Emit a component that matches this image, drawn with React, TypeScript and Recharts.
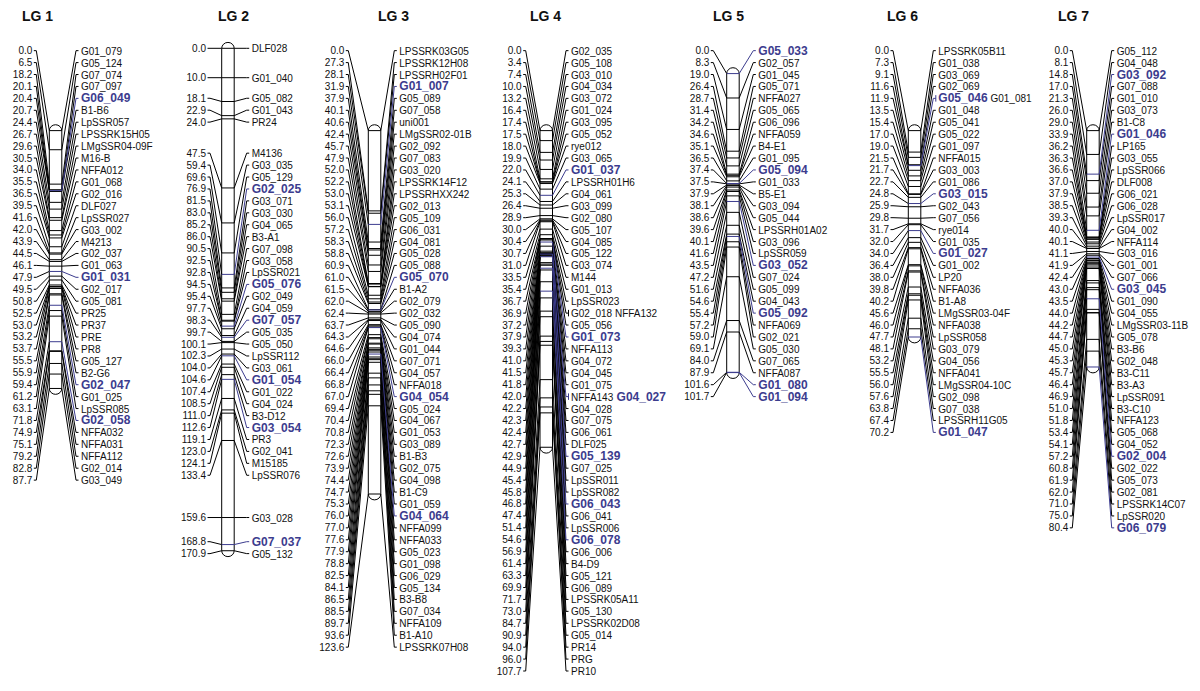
import React from 'react';
import { ComposedChart, XAxis, YAxis, Line, Scatter, ReferenceArea } from 'recharts';

// ---- data (cM positions, marker names, highlighted markers) ----
const LG1_CM = [0.0, 6.5, 18.2, 20.1, 20.4, 20.7, 24.4, 26.7, 29.6, 30.5, 34.0, 35.5, 36.5, 39.5, 41.6, 42.0, 43.9, 44.5, 46.1, 47.9, 49.5, 50.8, 52.5, 53.0, 53.2, 53.7, 55.5, 55.9, 59.4, 61.2, 63.1, 71.8, 74.9, 75.1, 79.2, 82.8, 87.7];
const LG1_MARKERS = ['G01_079', 'G05_124', 'G07_074', 'G07_097', 'G06_049', 'B1-B6', 'LpSSR057', 'LPSSRK15H05', 'LMgSSR04-09F', 'M16-B', 'NFFA012', 'G01_068', 'G02_016', 'DLF027', 'LpSSR027', 'G03_002', 'M4213', 'G02_037', 'G01_063', 'G01_031', 'G02_017', 'G05_081', 'PR25', 'PR37', 'PRE', 'PR8', 'G05_127', 'B2-G6', 'G02_047', 'G01_025', 'LpSSR085', 'G02_058', 'NFFA032', 'NFFA031', 'NFFA112', 'G02_014', 'G03_049'];
const LG1_HIGHLIGHT = ['G06_049', 'G01_031', 'G02_047', 'G02_058'];

const LG2_CM = [0.0, 10.0, 18.1, 22.9, 24.0, 47.5, 59.4, 69.6, 76.9, 81.5, 83.0, 85.2, 86.0, 90.5, 92.5, 92.8, 94.5, 95.4, 97.7, 98.3, 99.7, 100.1, 102.3, 104.0, 104.6, 107.4, 108.5, 111.0, 112.6, 119.1, 123.0, 124.1, 133.4, 159.6, 168.8, 170.9];
const LG2_MARKERS = ['DLF028', 'G01_040', 'G05_082', 'G01_043', 'PR24', 'M4136', 'G03_035', 'G05_129', 'G02_025', 'G03_071', 'G03_030', 'G04_065', 'B3-A1', 'G07_098', 'G03_058', 'LpSSR021', 'G05_076', 'G02_049', 'G04_059', 'G07_057', 'G05_035', 'G05_050', 'LpSSR112', 'G03_061', 'G01_054', 'G01_022', 'G04_024', 'B3-D12', 'G03_054', 'PR3', 'G02_041', 'M15185', 'LpSSR076', 'G03_028', 'G07_037', 'G05_132'];
const LG2_HIGHLIGHT = ['G02_025', 'G05_076', 'G07_057', 'G01_054', 'G03_054', 'G07_037'];

const LG3_CM = [0.0, 27.3, 28.1, 31.9, 37.9, 40.1, 40.6, 42.4, 45.7, 47.9, 52.0, 52.2, 53.0, 53.1, 56.0, 57.2, 58.3, 58.8, 60.9, 61.0, 61.5, 62.0, 62.4, 63.7, 64.3, 64.6, 66.0, 66.4, 66.8, 67.0, 69.4, 70.4, 70.8, 72.3, 72.6, 73.9, 74.4, 74.7, 75.3, 76.0, 77.0, 77.6, 77.9, 78.8, 82.5, 84.1, 86.5, 88.5, 89.7, 93.6, 123.6];
const LG3_MARKERS = ['LPSSRK03G05', 'LPSSRK12H08', 'LPSSRH02F01', 'G01_007', 'G05_089', 'G07_058', 'uni001', 'LMgSSR02-01B', 'G02_092', 'G07_083', 'G03_020', 'LPSSRK14F12', 'LPSSRHXX242', 'G02_013', 'G05_109', 'G06_031', 'G04_081', 'G05_028', 'G05_088', 'G05_070', 'B1-A2', 'G02_079', 'G02_032', 'G05_090', 'G04_074', 'G01_044', 'G07_071', 'G04_057', 'NFFA018', 'G04_054', 'G05_024', 'G04_067', 'G01_053', 'G03_089', 'B1-B3', 'G02_075', 'G04_098', 'B1-C9', 'G01_059', 'G04_064', 'NFFA099', 'NFFA033', 'G05_023', 'G01_098', 'G06_029', 'G05_134', 'B3-B8', 'G07_034', 'NFFA109', 'B1-A10', 'LPSSRK07H08'];
const LG3_HIGHLIGHT = ['G01_007', 'G05_070', 'G04_054', 'G04_064'];

const LG4_CM = [0.0, 3.4, 7.4, 10.0, 13.2, 16.4, 17.4, 17.5, 18.0, 19.9, 22.0, 24.1, 25.3, 26.4, 28.9, 30.0, 30.4, 30.7, 31.0, 33.5, 35.4, 36.7, 36.9, 37.2, 37.9, 39.3, 41.0, 41.5, 41.8, 42.0, 42.2, 42.3, 42.4, 42.7, 42.9, 44.9, 45.4, 45.8, 46.8, 47.4, 51.4, 54.6, 56.9, 61.4, 63.3, 69.9, 71.7, 73.0, 84.7, 90.9, 94.0, 96.0, 107.7];
const LG4_MARKERS = ['G02_035', 'G05_108', 'G03_010', 'G04_034', 'G03_072', 'G01_024', 'G03_095', 'G05_052', 'rye012', 'G03_065', 'G01_037', 'LPSSRH01H6', 'G04_061', 'G03_099', 'G02_080', 'G05_107', 'G04_085', 'G05_122', 'G03_074', 'M144', 'G01_013', 'LpSSR023', 'G02_018 NFFA132', 'G05_056', 'G01_073', 'NFFA113', 'G04_072', 'G04_045', 'G01_075', 'NFFA143 G04_027', 'G04_028', 'G07_075', 'G06_061', 'DLF025', 'G05_139', 'G07_025', 'LpSSR011', 'LpSSR082', 'G06_043', 'G06_041', 'LpSSR006', 'G06_078', 'G06_006', 'B4-D9', 'G05_121', 'G06_089', 'LPSSRK05A11', 'G05_130', 'LPSSRK02D08', 'G05_014', 'PR14', 'PRG', 'PR10'];
const LG4_HIGHLIGHT = ['G01_037', 'G01_073', 'G04_027', 'G05_139', 'G06_043', 'G06_078'];

const LG5_CM = [0.0, 8.3, 19.0, 26.4, 28.7, 31.4, 34.2, 34.6, 35.1, 36.5, 37.4, 37.5, 37.9, 38.1, 38.6, 39.6, 40.1, 41.6, 43.5, 47.2, 51.6, 54.6, 55.4, 57.2, 59.0, 69.1, 84.0, 87.9, 101.6, 101.7];
const LG5_MARKERS = ['G05_033', 'G02_057', 'G01_045', 'G05_071', 'NFFA027', 'G05_065', 'G06_096', 'NFFA059', 'B4-E1', 'G01_095', 'G05_094', 'G01_033', 'B5-E1', 'G03_094', 'G05_044', 'LPSSRH01A02', 'G03_096', 'LpSSR059', 'G03_052', 'G07_024', 'G05_099', 'G04_043', 'G05_092', 'NFFA069', 'G02_021', 'G05_030', 'G07_065', 'NFFA087', 'G01_080', 'G01_094'];
const LG5_HIGHLIGHT = ['G05_033', 'G05_094', 'G03_052', 'G05_092', 'G01_080', 'G01_094'];

const LG6_CM = [0.0, 7.3, 9.1, 11.6, 11.9, 13.5, 15.4, 17.0, 19.0, 21.5, 21.7, 22.7, 24.8, 25.9, 29.8, 31.7, 32.0, 34.0, 36.4, 38.0, 39.8, 40.2, 45.6, 46.0, 47.7, 48.1, 53.2, 55.5, 56.0, 57.6, 63.8, 67.4, 70.2];
const LG6_MARKERS = ['LPSSRK05B11', 'G01_038', 'G03_069', 'G02_069', 'G05_046 G01_081', 'G01_048', 'G05_041', 'G05_022', 'G01_097', 'NFFA015', 'G03_003', 'G01_086', 'G03_015', 'G02_043', 'G07_056', 'rye014', 'G01_035', 'G01_027', 'G01_002', 'LP20', 'NFFA036', 'B1-A8', 'LMgSSR03-04F', 'NFFA038', 'LpSSR058', 'G03_079', 'G04_056', 'NFFA041', 'LMgSSR04-10C', 'G02_098', 'G07_038', 'LPSSRH11G05', 'G01_047'];
const LG6_HIGHLIGHT = ['G05_046', 'G03_015', 'G01_027', 'G01_047'];

const LG7_CM = [0.0, 8.1, 14.8, 17.0, 21.3, 26.0, 29.0, 33.9, 36.2, 36.3, 36.6, 37.0, 37.9, 38.5, 39.3, 40.0, 40.1, 41.1, 41.9, 42.4, 43.0, 43.5, 44.0, 44.2, 44.7, 45.0, 45.3, 45.7, 46.4, 46.9, 51.0, 51.8, 53.4, 54.1, 57.2, 60.8, 61.9, 62.0, 71.0, 75.0, 80.4];
const LG7_MARKERS = ['G05_112', 'G04_048', 'G03_092', 'G07_088', 'G01_010', 'G03_073', 'B1-C8', 'G01_046', 'LP165', 'G03_055', 'LpSSR066', 'DLF008', 'G06_021', 'G06_028', 'LpSSR017', 'G04_002', 'NFFA114', 'G03_016', 'G01_001', 'G07_066', 'G03_045', 'G01_090', 'G04_055', 'LMgSSR03-11B', 'G05_078', 'B3-B6', 'G02_048', 'B3-C11', 'B3-A3', 'LpSSR091', 'B3-C10', 'NFFA123', 'G05_068', 'G04_052', 'G02_004', 'G02_022', 'G05_073', 'G02_081', 'LPSSRK14C07', 'LpSSR020', 'G06_079'];
const LG7_HIGHLIGHT = ['G03_092', 'G01_046', 'G03_045', 'G02_004', 'G06_079'];

const GROUPS = [
  { title: 'LG 1', cm: LG1_CM, names: LG1_MARKERS, hi: LG1_HIGHLIGHT },
  { title: 'LG 2', cm: LG2_CM, names: LG2_MARKERS, hi: LG2_HIGHLIGHT },
  { title: 'LG 3', cm: LG3_CM, names: LG3_MARKERS, hi: LG3_HIGHLIGHT },
  { title: 'LG 4', cm: LG4_CM, names: LG4_MARKERS, hi: LG4_HIGHLIGHT },
  { title: 'LG 5', cm: LG5_CM, names: LG5_MARKERS, hi: LG5_HIGHLIGHT },
  { title: 'LG 6', cm: LG6_CM, names: LG6_MARKERS, hi: LG6_HIGHLIGHT },
  { title: 'LG 7', cm: LG7_CM, names: LG7_MARKERS, hi: LG7_HIGHLIGHT },
];

// ---- layout (x in px, offsets in cM) ----
const LAYOUT = [
  { barX: 49.3, numRight: 32.3, nameX: 81, offset: 28, top: 0.8, titleX: 22 },
  { barX: 221.7, numRight: 206, nameX: 251.7, offset: 0, top: 0, titleX: 218 },
  { barX: 368.3, numRight: 344.3, nameX: 399.3, offset: 28, top: 0.8, titleX: 378 },
  { barX: 540, numRight: 521.7, nameX: 571, offset: 28, top: 0.8, titleX: 530 },
  { barX: 726.7, numRight: 709.3, nameX: 758.3, offset: 8.6, top: 0.8, titleX: 713 },
  { barX: 908.3, numRight: 889, nameX: 938.3, offset: 28, top: 0.8, titleX: 887 },
  { barX: 1086.7, numRight: 1068.3, nameX: 1116.7, offset: 28, top: 0.8, titleX: 1058 },
];

const W = 1200;
const H = 691;
const PX_PER_CM = 2.94;
const Y0 = 48.3;
const Y_DOMAIN = [-Y0 / PX_PER_CM, (H - Y0) / PX_PER_CM];
const LABEL_GAP = 11.93 / PX_PER_CM;
const BAR_W = 12.5;
const CAP = 2.0;
const TITLE_Y = (16 - Y0) / PX_PER_CM;
const FONT = '"Liberation Sans", Arial, Helvetica, sans-serif';
const BLUE = '#3c3c8e';
const INK = '#111';

// spread labels so they keep a minimum gap, clusters centred on their range
function spread(desired: number[], gap: number, top: number): number[] {
  type C = { i0: number; i1: number; pos: number };
  const place = (c: C) => {
    const n = c.i1 - c.i0 + 1;
    const center = (desired[c.i0] + desired[c.i1]) / 2;
    c.pos = Math.max(top, center - ((n - 1) * gap) / 2);
    return c;
  };
  const cs: C[] = desired.map((_, i) => place({ i0: i, i1: i, pos: 0 }));
  let merged = true;
  while (merged) {
    merged = false;
    for (let k = 0; k < cs.length - 1; k++) {
      const a = cs[k];
      const b = cs[k + 1];
      if (a.pos + (a.i1 - a.i0) * gap + gap > b.pos + 1e-9) {
        cs.splice(k, 2, place({ i0: a.i0, i1: b.i1, pos: 0 }));
        merged = true;
        break;
      }
    }
  }
  const out: number[] = [];
  cs.forEach((c) => {
    for (let i = c.i0; i <= c.i1; i++) out[i] = c.pos + (i - c.i0) * gap;
  });
  return out;
}

function build(g: typeof GROUPS[number], lay: typeof LAYOUT[number]) {
  const labelY = spread(g.cm.map((c) => c + lay.offset), LABEL_GAP, lay.top);
  const black: any[] = [];
  const blue: any[] = [];
  const nums: any[] = [];
  const names: any[] = [];
  const bx0 = lay.barX;
  const bx1 = lay.barX + BAR_W;
  const r0 = lay.nameX - 5;
  const r1 = lay.nameX - 2.5;
  g.cm.forEach((c, i) => {
    const m = c + lay.offset;
    const L = labelY[i];
    const parts = g.names[i].split(' ');
    const isHi = parts.some((p) => g.hi.includes(p));
    black.push({ x: lay.numRight + 1.5, y: L }, { x: lay.numRight + 4, y: L }, { x: bx0, y: m });
    const right = [{ x: bx0, y: m }, { x: bx1, y: m }, { x: r0, y: L }, { x: r1, y: L }];
    if (isHi) {
      black.push({ x: bx0, y: null });
      blue.push(...right, { x: r1, y: null });
    } else {
      black.push(...right.slice(1), { x: r1, y: null });
    }
    if (parts.length > 1) {
      (isHi ? blue : black).push({ x: r1, y: L - 1.1 }, { x: r1, y: L + 1.1 }, { x: r1, y: null });
    }
    nums.push({ x: lay.numRight, y: L, label: c.toFixed(1) });
    names.push({ x: lay.nameX, y: L, parts: parts.map((p) => ({ t: p, hi: g.hi.includes(p) })) });
  });
  const max = Math.max(...g.cm);
  return { black, blue, nums, names, bar: { x1: bx0, x2: bx1, y1: lay.offset - CAP, y2: lay.offset + max + CAP } };
}

const BUILT = GROUPS.map((g, i) => build(g, LAYOUT[i]));
const TITLES = GROUPS.map((g, i) => ({ x: LAYOUT[i].titleX, y: TITLE_Y, label: g.title }));

const numShape = (p: any) => (
  <text x={p.cx} y={p.cy} textAnchor="end" dominantBaseline="central" fontSize={10} fill={INK} fontFamily={FONT}>
    {p.payload.label}
  </text>
);

const nameShape = (p: any) => (
  <text x={p.cx} y={p.cy} textAnchor="start" dominantBaseline="central" fontFamily={FONT}>
    {p.payload.parts.map((s: any, j: number) => (
      <tspan key={j} fontSize={s.hi ? 12 : 10} fontWeight={s.hi ? 'bold' : 'normal'} fill={s.hi ? BLUE : INK}>
        {(j ? ' ' : '') + s.t}
      </tspan>
    ))}
  </text>
);

const titleShape = (p: any) => (
  <text x={p.cx} y={p.cy} textAnchor="start" dominantBaseline="central" fontSize={14} fontWeight="bold" fill={INK} fontFamily={FONT}>
    {p.payload.label}
  </text>
);

const barShape = (p: any) => (
  <rect x={p.x} y={p.y} width={p.width} height={p.height} rx={p.width / 2} ry={6} fill="none" stroke="#000" strokeWidth={1} />
);

export default function App() {
  return (
    <div style={{ position: 'absolute', left: 0, top: 0, width: W, height: H, background: '#fff' }}>
      <ComposedChart width={W} height={H} margin={{ top: 0, right: 0, bottom: 0, left: 0 }}>
        <XAxis type="number" dataKey="x" domain={[0, W]} allowDataOverflow hide />
        <YAxis type="number" dataKey="y" domain={Y_DOMAIN} reversed allowDataOverflow hide />
        {BUILT.map((b, i) => (
          <ReferenceArea key={`bar${i}`} x1={b.bar.x1} x2={b.bar.x2} y1={b.bar.y1} y2={b.bar.y2} shape={barShape} ifOverflow="visible" />
        ))}
        {BUILT.map((b, i) => (
          <Line key={`k${i}`} data={b.black} dataKey="y" type="linear" stroke="#000" strokeWidth={1}
            dot={false} activeDot={false} isAnimationActive={false} connectNulls={false} />
        ))}
        {BUILT.map((b, i) => (
          <Line key={`b${i}`} data={b.blue} dataKey="y" type="linear" stroke={BLUE} strokeWidth={1}
            dot={false} activeDot={false} isAnimationActive={false} connectNulls={false} />
        ))}
        {BUILT.map((b, i) => (
          <Scatter key={`n${i}`} data={b.nums} shape={numShape} isAnimationActive={false} />
        ))}
        {BUILT.map((b, i) => (
          <Scatter key={`m${i}`} data={b.names} shape={nameShape} isAnimationActive={false} />
        ))}
        <Scatter data={TITLES} shape={titleShape} isAnimationActive={false} />
      </ComposedChart>
    </div>
  );
}
